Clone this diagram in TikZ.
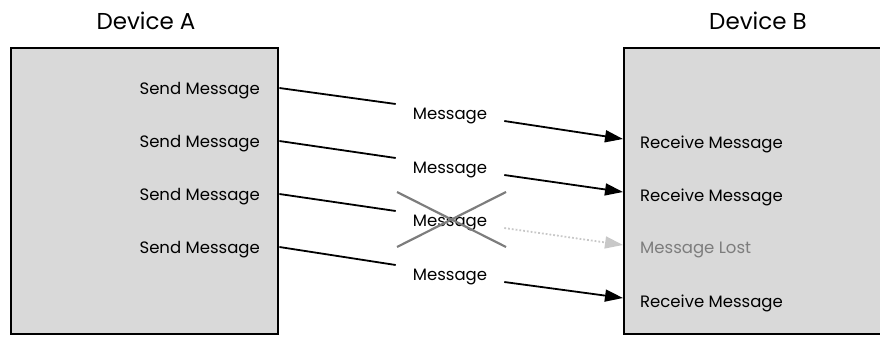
\documentclass[tikz,border=0pt]{standalone}
\usepackage{fontspec}
\setmainfont{Poppins}
\usetikzlibrary{arrows.meta,calc,positioning}
\definecolor{boxgray}{RGB}{217,217,217}
\definecolor{crossgray}{RGB}{125,125,125}
\definecolor{lostgray}{RGB}{200,200,200}
\tikzset{device/.style={draw,line width=2.4pt,fill=boxgray,anchor=north west,inner sep=0pt},
  title/.style={font=\fontsize{23}{27}\selectfont},
  lbl/.style={font=\fontsize{16.5}{19}\selectfont,inner sep=0pt,text depth=0pt},
  line/.style={line width=1.8pt},
  arr/.style={line width=1.8pt,-{Triangle[length=18pt,width=12pt]}}}

\begin{document}
\begin{tikzpicture}[x=1pt,y=-1pt]
\useasboundingbox (0,0) rectangle (880,343);
\clip (0,0) rectangle (880,343);
% devices
\node[device,minimum width=267pt,minimum height=286pt] (devA) at (10,47) {};
\node[device,minimum width=280pt,minimum height=286pt] (devB) at (623,47) {};
\node[title] (ta) at (146,21) {Device A};
\node[title] (tb) at (758,21) {Device B};
% sender side
\node[lbl,anchor=east] (s1) at (260,88) {Send Message};
\node[lbl,anchor=east] (s2) at (260,141) {Send Message};
\node[lbl,anchor=east] (s3) at (260,194) {Send Message};
\node[lbl,anchor=east] (s4) at (260,247) {Send Message};
% messages in transit
\node[lbl] (m1) at (450,114) {Message};
\node[lbl] (m2) at (450,168) {Message};
\node[lbl] (m3) at (450,221) {Message};
\node[lbl] (m4) at (450,275) {Message};
% receiver side
\node[lbl,anchor=west] (r1) at (640,142) {Receive Message};
\node[lbl,anchor=west] (r2) at (640,195) {Receive Message};
\node[lbl,anchor=west,text=crossgray] (r3) at (640,248) {Message Lost};
\node[lbl,anchor=west] (r4) at (640,301) {Receive Message};
% sending
\draw[line] (devA.east |- s1) -- ([shift={(-17,-10)}]m1.west);
\draw[line] (devA.east |- s2) -- ([shift={(-17,-10)}]m2.west);
\draw[line] (devA.east |- s3) -- ([shift={(-17,-10)}]m3.west);
\draw[line] (devA.east |- s4) -- ([shift={(-17,-10)}]m4.west);
% receiving
\draw[arr] ([shift={(17,7)}]m1.east) -- ([yshift=3pt]devB.west |- r1);
\draw[arr] ([shift={(17,7)}]m2.east) -- ([yshift=3pt]devB.west |- r2);
\draw[arr] ([shift={(17,7)}]m4.east) -- ([yshift=3pt]devB.west |- r4);
% lost message
\draw[line,lostgray,dotted,-{Triangle[length=18pt,width=12pt]}] ([shift={(17,7)}]m3.east) -- ([yshift=3pt]devB.west |- r3);
\draw[line width=2.2pt,crossgray] ([shift={(-53,-29)}]m3.center) -- ([shift={(56,26)}]m3.center)
  ([shift={(-53,26)}]m3.center) -- ([shift={(56,-29)}]m3.center);
\end{tikzpicture}
\end{document}
